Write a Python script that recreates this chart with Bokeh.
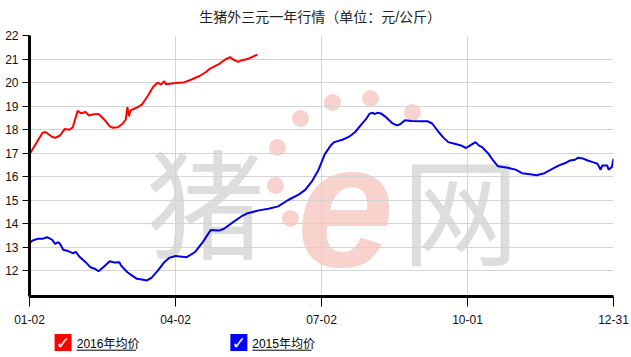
from bokeh.plotting import figure
from bokeh.layouts import column
from bokeh.models import Range1d, FixedTicker
from bokeh.core.properties import value
from bokeh.embed import file_html
from bokeh.resources import INLINE

# ---------------- data ----------------
title = "生猪外三元一年行情（单位：元/公斤）"
tick_days = [0, 91, 182, 273, 364]
tick_labels = ["01-02", "04-02", "07-02", "10-01", "12-31"]
y_ticks = [12, 13, 14, 15, 16, 17, 18, 19, 20, 21, 22]

days_2016 = [0, 4, 8, 10, 14, 16, 19, 22, 25, 27, 30, 32, 35, 37, 40, 43, 44, 47, 50, 52,
             55, 58, 60, 61, 62, 63, 67, 70, 74, 77, 80, 82, 84, 85, 91, 96, 101, 106, 110,
             112, 118, 122, 125, 127, 130, 132, 136, 142]
price_2016 = [16.95, 17.4, 17.86, 17.9, 17.7, 17.65, 17.75, 18.03, 18.0, 18.1, 18.8, 18.7,
              18.75, 18.6, 18.65, 18.67, 18.6, 18.4, 18.14, 18.08, 18.1, 18.25, 18.43, 18.96,
              18.57, 18.82, 18.94, 19.06, 19.46, 19.81, 20.0, 19.91, 20.06, 19.93, 19.98, 20.0,
              20.13, 20.28, 20.45, 20.57, 20.78, 20.98, 21.08, 20.98, 20.88, 20.94, 21.0, 21.19]

days_2015 = [0, 2, 5, 8, 11, 14, 16, 18, 19, 21, 24, 27, 29, 31, 35, 38, 41, 43, 46, 50, 53,
             56, 57, 61, 64, 67, 70, 73, 76, 80, 84, 87, 91, 98, 103, 108, 113, 118, 121, 126,
             132, 136, 143, 149, 155, 161, 168, 172, 176, 180, 184, 188, 190, 195, 199, 203,
             207, 210, 212, 214, 215, 217, 219, 222, 226, 229, 231, 234, 238, 244, 248, 251,
             255, 258, 261, 265, 269, 272, 274, 278, 280, 282, 286, 289, 292, 298, 303, 307,
             312, 316, 321, 325, 330, 334, 337, 340, 342, 345, 348, 351, 354, 356, 357, 360,
             361, 363, 364]
price_2015 = [13.19, 13.29, 13.36, 13.36, 13.43, 13.33, 13.15, 13.22, 13.15, 12.9, 12.84,
              12.75, 12.8, 12.61, 12.37, 12.15, 12.08, 11.98, 12.15, 12.41, 12.35, 12.37,
              12.23, 11.94, 11.8, 11.66, 11.63, 11.59, 11.7, 12.01, 12.37, 12.55, 12.63, 12.58,
              12.79, 13.22, 13.74, 13.71, 13.78, 14.03, 14.31, 14.45, 14.57, 14.64, 14.74,
              15.0, 15.25, 15.45, 15.8, 16.27, 16.95, 17.35, 17.47, 17.57, 17.69, 17.9, 18.23,
              18.47, 18.68, 18.72, 18.66, 18.72, 18.69, 18.54, 18.28, 18.18, 18.23, 18.4,
              18.37, 18.36, 18.36, 18.26, 17.9, 17.66, 17.47, 17.4, 17.33, 17.22, 17.3, 17.47,
              17.33, 17.26, 16.98, 16.69, 16.44, 16.38, 16.3, 16.15, 16.1, 16.06, 16.15, 16.3,
              16.48, 16.58, 16.69, 16.72, 16.81, 16.77, 16.69, 16.62, 16.55, 16.3, 16.48,
              16.48, 16.3, 16.41, 16.77]

series_names = ["2016年均价", "2015年均价"]
series_colors = ["#ff0000", "#0000ee"]
legend_box_colors = ["#ff0000", "#0000ff"]

# ---------------- layout ----------------
W = 631
H_TITLE, H_MAIN, H_LEG = 28, 302, 27
FL, FR = 29, 613
FT, FB = 7, 268           # frame edges inside the main figure
X_MIN, X_MAX = 0, 364
Y_MIN, Y_MAX = 10.91, 22

def dx(px):
    return X_MIN + (px - FL) * (X_MAX - X_MIN) / (FR - FL)

def dy(py):
    # py measured on the whole page
    return Y_MAX - (py - H_TITLE - FT) * (Y_MAX - Y_MIN) / (FB - FT)

def strip(h):
    f = figure(width=W, height=h, output_backend="svg", toolbar_location=None,
               x_range=Range1d(0, W), y_range=Range1d(h, 0),
               x_axis_location=None, y_axis_location=None,
               min_border_left=0, min_border_right=0, min_border_top=0, min_border_bottom=0)
    f.outline_line_color = None
    f.grid.visible = False
    f.background_fill_color = "white"
    f.border_fill_color = "white"
    return f

FONT = value("'Liberation Sans', 'Noto Sans CJK SC', sans-serif")

# ---------------- title strip ----------------
tf = strip(H_TITLE)
tf.text([314], [16], text=[title], text_align="center", text_baseline="middle",
        text_font_size="14px", text_color="#222222", text_font=FONT)

# ---------------- main chart ----------------
p = figure(width=W, height=H_MAIN, output_backend="svg", toolbar_location=None,
           x_range=Range1d(X_MIN, X_MAX), y_range=Range1d(Y_MIN, Y_MAX),
           min_border_left=FL, min_border_right=W - FR, min_border_top=FT,
           min_border_bottom=H_MAIN - FB)
p.outline_line_color = None
p.background_fill_color = "white"
p.border_fill_color = "white"

p.xaxis.ticker = FixedTicker(ticks=tick_days)
p.xaxis.major_label_overrides = {d: l for d, l in zip(tick_days, tick_labels)}
p.yaxis.ticker = FixedTicker(ticks=y_ticks)
for ax in (p.xaxis, p.yaxis):
    ax.axis_line_color = "black"
    ax.axis_line_width = 3
    ax.major_tick_line_color = "black"
    ax.major_tick_line_width = 1
    ax.major_tick_in = 0
    ax.minor_tick_line_color = None
    ax.major_label_text_font_size = "12px"
    ax.major_label_text_color = "#111111"
    ax.major_label_text_font = "Liberation Sans"
p.xaxis.major_tick_out = 10
p.xaxis.major_label_standoff = 8
p.yaxis.major_tick_out = 7
p.yaxis.major_label_standoff = 4

p.xgrid.ticker = FixedTicker(ticks=tick_days)
p.ygrid.ticker = FixedTicker(ticks=y_ticks)
p.grid.grid_line_color = "#d4d4d4"
p.grid.grid_line_width = 1

# watermark (decoration)
wm_gray = "#dddddd"
wm_pink = "#f8d3cd"
p.text([dx(205)], [dy(198)], text=["猪"], text_align="center", text_baseline="middle",
       text_font_size="118px", text_font=value("Noto Sans CJK SC"), text_color=wm_gray,
       level="image")
p.text([dx(460)], [dy(205)], text=["网"], text_align="center", text_baseline="middle",
       text_font_size="118px", text_font=value("Noto Sans CJK SC"), text_color=wm_gray,
       level="image")
p.text([dx(345)], [dy(205)], text=["e"], text_align="center", text_baseline="middle",
       text_font_size="175px", text_font_style="bold italic",
       text_font=value("Liberation Sans"), text_color=wm_pink, level="image")
dots_px = [(275, 185), (277, 147), (300, 118), (332, 102), (370, 98), (412, 112),
           (290, 218), (318, 240), (362, 250)]
p.scatter([dx(a) for a, b in dots_px], [dy(b) for a, b in dots_px], size=17,
          fill_color=wm_pink, line_color=None, level="image")

# lines
p.line(days_2016, price_2016, line_color=series_colors[0], line_width=2)
p.line(days_2015, price_2015, line_color=series_colors[1], line_width=2)

# ---------------- legend strip ----------------
leg = strip(H_LEG)
box_x = [36.3, 226.2]
text_x = [51, 240.7]
text_w = 64
for bx, tx, name, col in zip(box_x, text_x, series_names, legend_box_colors):
    leg.rect([bx], [12], width=17, height=17, width_units="screen", height_units="screen",
             fill_color=col, line_color=None)
    leg.text([bx], [12.5], text=["✓"], text_align="center", text_baseline="middle",
             text_font_size="17px", text_font_style="bold", text_color="white",
             text_font=value("DejaVu Sans"))
    leg.text([tx], [13], text=[name], text_align="left", text_baseline="middle",
             text_font_size="12px", text_color="black", text_font=FONT)
    leg.segment([tx], [19.7], [tx + text_w], [19.7], line_color="black", line_width=1)

layout = column(tf, p, leg, spacing=0)
open("out.html", "w").write(file_html(layout, INLINE))
